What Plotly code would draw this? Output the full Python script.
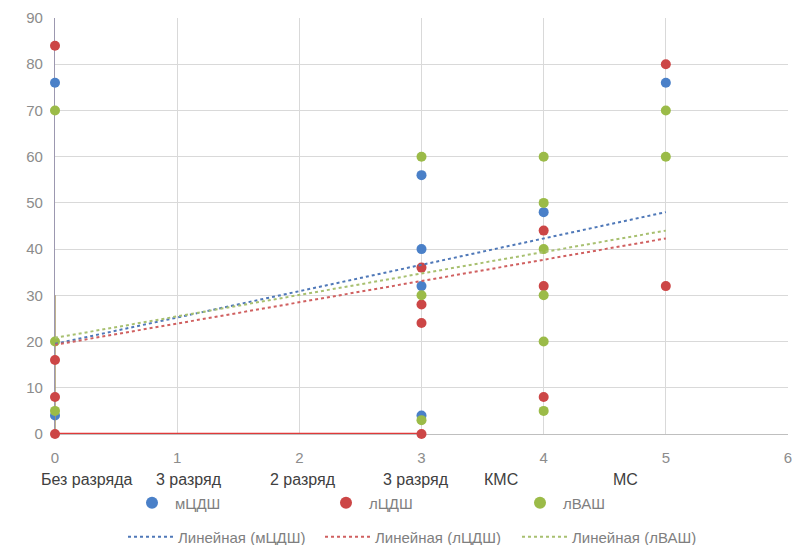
import plotly.graph_objects as go

# ---------------- data ----------------
series_names = ["мЦДШ", "лЦДШ", "лВАШ"]

m_cdsh_x = [0, 0, 3, 3, 3, 3, 4, 5]
m_cdsh_y = [76, 4, 56, 40, 32, 4, 48, 76]

l_cdsh_x = [0, 0, 0, 0, 3, 3, 3, 3, 4, 4, 4, 5, 5]
l_cdsh_y = [84, 16, 8, 0, 36, 28, 24, 0, 44, 32, 8, 80, 32]

l_vash_x = [0, 0, 0, 3, 3, 3, 4, 4, 4, 4, 4, 4, 5, 5]
l_vash_y = [70, 20, 5, 60, 30, 3, 60, 50, 40, 30, 20, 5, 70, 60]

# error bar lengths on the лЦДШ series (only the point at 0, 0 has them)
l_cdsh_err_x = [0, 0, 0, 3, 0, 0, 0, 0, 0, 0, 0, 0, 0]
l_cdsh_err_y = [0, 0, 0, 30, 0, 0, 0, 0, 0, 0, 0, 0, 0]

# linear trend values read at x = 0 and x = 5
trend_x = [0, 5]
trend_m_cdsh = [19.5, 48.0]
trend_l_cdsh = [19.3, 42.3]
trend_l_vash = [20.8, 44.0]

category_labels = ["Без разряда", "3 разряд", "2 разряд", "3 разряд", "КМС", "МС"]

# ---------------- style ----------------
C_BLUE = "#4a80c8"
C_RED = "#cc4646"
C_GREEN = "#9bbb48"
FONT = "Liberation Sans, Arial, sans-serif"

OFF = 8                     # page body margin
W, H = 802 - OFF, 545 - OFF
ML, MR, MT, MB = 55 - OFF, 14, 18 - OFF, 111
PW = W - ML - MR
PH = H - MT - MB
Y0 = 434 - OFF              # y pixel of the x axis (figure coords)

fig = go.Figure()

def pts(x, y, name, color, **kw):
    fig.add_trace(go.Scatter(
        x=x, y=y, mode="markers", name=name,
        marker=dict(size=10, color=color),
        legend="legend", cliponaxis=False, **kw))

pts(m_cdsh_x, m_cdsh_y, series_names[0], C_BLUE)
pts(l_cdsh_x, l_cdsh_y, series_names[1], C_RED,
    error_x=dict(type="data", symmetric=False, copy_ystyle=False,
                 array=l_cdsh_err_x, arrayminus=[0] * len(l_cdsh_err_x),
                 color="#e03a3a", thickness=2.5, width=0, visible=True),
    error_y=dict(type="data", symmetric=False,
                 array=l_cdsh_err_y, arrayminus=[0] * len(l_cdsh_err_y),
                 color="#a8986a", thickness=1.5, width=0, visible=True))
pts(l_vash_x, l_vash_y, series_names[2], C_GREEN)

for vals, name, color in [(trend_m_cdsh, series_names[0], "#4f78b8"),
                          (trend_l_cdsh, series_names[1], "#d06060"),
                          (trend_l_vash, series_names[2], "#a8c070")]:
    fig.add_trace(go.Scatter(
        x=trend_x, y=vals, mode="lines", name=f"Линейная ({name})",
        line=dict(color=color, width=2, dash="dot"),
        legend="legend2", hoverinfo="skip"))

# category text boxes under the axis (screen pixel centres)
cat_px = [87, 189, 302.5, 416, 501, 625.5]
annotations = []
for lab, px in zip(category_labels, cat_px):
    annotations.append(dict(
        text=lab, xref="paper", yref="paper",
        x=(px - OFF - ML) / PW, y=(Y0 - (479 - OFF)) / PH,
        xanchor="center", yanchor="middle", showarrow=False,
        font=dict(family=FONT, size=16, color="#404040")))

fig.update_layout(
    width=W, height=H,
    margin=dict(l=ML, r=MR, t=MT, b=MB, autoexpand=False),
    paper_bgcolor="white", plot_bgcolor="white",
    font=dict(family=FONT, size=15, color="#7f7f7f"),
    showlegend=True,
    annotations=annotations,
    legend=dict(
        orientation="h", xref="container", yref="container",
        x=(129 - OFF) / W, xanchor="left",
        y=1 - (503 - OFF) / H, yanchor="middle",
        entrywidth=143, entrywidthmode="pixels", itemwidth=36,
        font=dict(family=FONT, size=15, color="#7f7f7f"),
        bgcolor="rgba(0,0,0,0)", itemsizing="constant"),
    legend2=dict(
        orientation="h", xref="container", yref="container",
        x=(123 - OFF) / W, xanchor="left",
        y=1 - (537 - OFF) / H, yanchor="middle",
        entrywidth=137, entrywidthmode="pixels", itemwidth=45,
        font=dict(family=FONT, size=15, color="#7f7f7f"),
        bgcolor="rgba(0,0,0,0)"),
    xaxis=dict(
        range=[0, 6], dtick=1, tick0=0, showgrid=True, automargin=False,
        gridcolor="#d9d9d9", gridwidth=1.3, zeroline=False,
        showline=True, linecolor="#bfbfbf", linewidth=1.3,
        layer="below traces",
        ticks="", ticklabelstandoff=10,
        tickfont=dict(family=FONT, size=15, color="#8c8c8c")),
    yaxis=dict(
        range=[0, 90], dtick=10, tick0=0, showgrid=True, automargin=False,
        gridcolor="#d9d9d9", gridwidth=1.3, zeroline=False,
        showline=True, linecolor="#9c98b0", linewidth=1.3,
        layer="below traces",
        ticks="", ticklabelstandoff=8,
        tickfont=dict(family=FONT, size=15, color="#8c8c8c")),
)

fig.write_html("out.html")
